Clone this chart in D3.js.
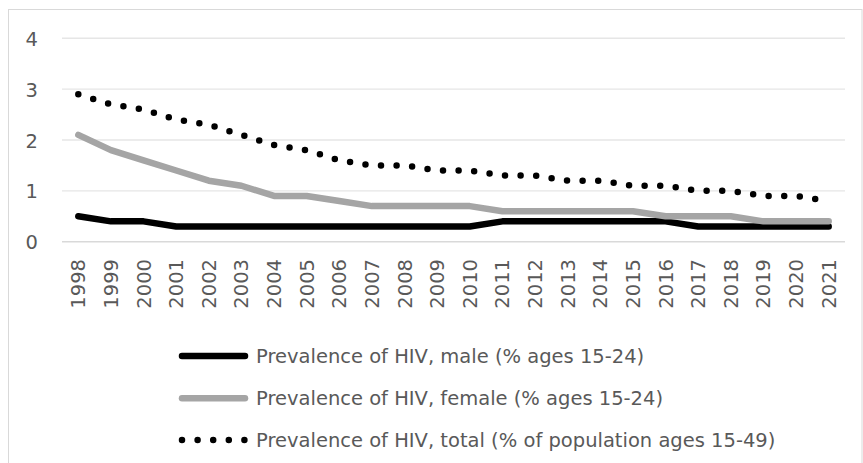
<!DOCTYPE html>
<html>
<head>
<meta charset="utf-8">
<script src="https://cdn.jsdelivr.net/npm/d3@7"></script>
<style>
html,body{margin:0;padding:0;background:#fff;}
svg{display:block;}
</style>
</head>
<body>
<svg id="chart" width="863" height="463"></svg>
<script>
const years = ["1998","1999","2000","2001","2002","2003","2004","2005","2006","2007","2008","2009","2010","2011","2012","2013","2014","2015","2016","2017","2018","2019","2020","2021"];
const male = [0.5,0.4,0.4,0.3,0.3,0.3,0.3,0.3,0.3,0.3,0.3,0.3,0.3,0.4,0.4,0.4,0.4,0.4,0.4,0.3,0.3,0.3,0.3,0.3];
const female = [2.1,1.8,1.6,1.4,1.2,1.1,0.9,0.9,0.8,0.7,0.7,0.7,0.7,0.6,0.6,0.6,0.6,0.6,0.5,0.5,0.5,0.4,0.4,0.4];
const total = [2.9,2.7,2.6,2.4,2.3,2.1,1.9,1.8,1.6,1.5,1.5,1.4,1.4,1.3,1.3,1.2,1.2,1.1,1.1,1.0,1.0,0.9,0.9,0.8];
const yTicks = [0,1,2,3,4];
const seriesNames = ["Prevalence of HIV, male (% ages 15-24)","Prevalence of HIV, female (% ages 15-24)","Prevalence of HIV, total (% of population ages 15-49)"];

const svg = d3.select("#chart");
const font = "'DejaVu Sans', sans-serif";
const textColor = "#595959";
const fs = "19.5px";

// chart border
svg.append("rect").attr("x",8.5).attr("y",9.5).attr("width",853.5).attr("height",470)
  .attr("fill","none").attr("stroke","#d9d9d9").attr("stroke-width",1);

const x = d3.scaleBand().domain(years).range([62,845]);
const y = d3.scaleLinear().domain([0,4]).range([241.7,38.3]);

// gridlines
svg.append("g").selectAll("line").data(yTicks).join("line")
  .attr("x1",62).attr("x2",845)
  .attr("y1",d=>y(d)).attr("y2",d=>y(d))
  .attr("stroke",d=>d===0?"#d9d9d9":"#e6e6e6").attr("stroke-width",1.4);

// y axis labels
const yAxis = d3.axisLeft(y).tickValues(yTicks).tickSize(0).tickPadding(0).tickFormat(d3.format("d"));
const gy = svg.append("g").attr("transform","translate(38,0)").call(yAxis);
gy.select(".domain").remove();
gy.selectAll("text").attr("font-family",font).attr("font-size",fs).attr("fill",textColor)
  .attr("dy","0.36em");

// x axis labels
const xAxis = d3.axisBottom(x).tickSize(0).tickPadding(0);
const gx = svg.append("g").attr("transform","translate(0,259)").call(xAxis);
gx.select(".domain").remove();
gx.selectAll("text").attr("font-family",font).attr("font-size",fs).attr("fill",textColor)
  .attr("transform","rotate(-90)").attr("text-anchor","end")
  .attr("x",0).attr("y",0).attr("dx",0).attr("dy","0.36em");

const line = d3.line().x((d,i)=>x(years[i])+x.bandwidth()/2).y(d=>y(d));

const styles = [
  {data:male, stroke:"#000000", width:6.5, dash:null},
  {data:female, stroke:"#a5a5a5", width:6.5, dash:null},
  {data:total, stroke:"#000000", width:6.5, dash:"0 15.6"}
];

styles.forEach(s=>{
  svg.append("path").datum(s.data).attr("d",line)
    .attr("fill","none").attr("stroke",s.stroke).attr("stroke-width",s.width)
    .attr("stroke-linecap","round").attr("stroke-linejoin","round")
    .attr("stroke-dasharray",s.dash);
});

// legend
const legY = [356,398.3,440];
const leg = svg.append("g");
seriesNames.forEach((name,i)=>{
  const s = styles[i];
  leg.append("line").attr("x1",182).attr("x2",245).attr("y1",legY[i]).attr("y2",legY[i])
    .attr("stroke",s.stroke).attr("stroke-width",s.width).attr("stroke-linecap","round")
    .attr("stroke-dasharray",s.dash);
  leg.append("text").attr("x",256).attr("y",legY[i]).attr("dy","0.36em")
    .attr("font-family",font).attr("font-size",fs).attr("fill",textColor).text(name);
});
</script>
</body>
</html>
